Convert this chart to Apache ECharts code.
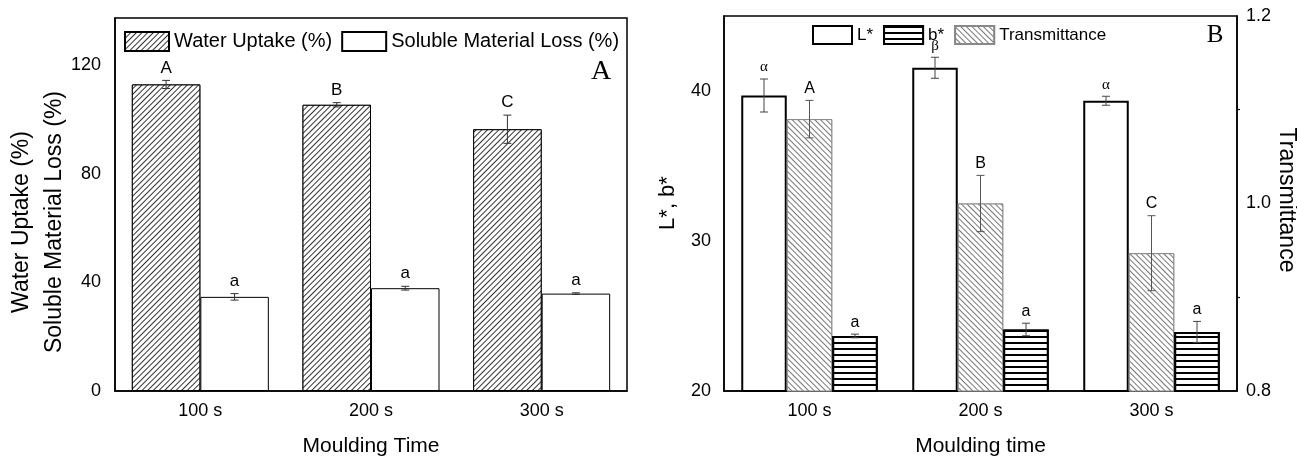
<!DOCTYPE html>
<html>
<head>
<meta charset="utf-8">
<script src="https://cdn.jsdelivr.net/npm/echarts@6/dist/echarts.min.js"></script>
<style>
  html, body { margin: 0; padding: 0; background: #fff; }
  #main { width: 1297px; height: 462px; }
</style>
</head>
<body>
<div id="main"></div>
<script>
// categories
var categories = ['100 s', '200 s', '300 s'];

// panel A
var waterUptake = [113.0, 105.5, 96.5];
var waterUptakeErr = [1.5, 0.8, 5.2];
var waterLetters = ['A', 'B', 'C'];
var solubleLoss = [34.7, 37.9, 35.9];
var solubleLossErr = [1.2, 0.7, 0.3];
var solubleLetters = ['a', 'a', 'a'];

// panel B
var lStar = [39.7, 41.55, 39.35];
var lStarErr = [1.1, 0.7, 0.3];
var lStarLetters = ['α', 'β', 'α'];
var transmittance = [1.09, 1.0, 0.947];
var transmittanceErr = [0.02, 0.03, 0.04];
var transLetters = ['A', 'B', 'C'];
var bStar = [23.67, 24.1, 23.94];
var bStarErr = [0.12, 0.42, 0.7];
var bStarLetters = ['a', 'a', 'a'];

var FONT = 'Liberation Sans, Arial, sans-serif';
var SERIF = 'Liberation Serif, Times New Roman, serif';
var BAR_A = 68.5;
var BAR_B = 45.5;

var chart = echarts.init(document.getElementById('main'));

var axisLine = { show: true, lineStyle: { color: '#000', width: 1.5 } };

// error bar + significance letter drawn through the axis scales
function errSeries(name, xi, yi, vals, errs, letters, offset, font, color) {
    return {
        type: 'custom',
        name: name,
        xAxisIndex: xi,
        yAxisIndex: yi,
        z: 10,
        silent: true,
        encode: { x: 0, y: 1 },
        data: vals.map(function (v, i) { return [i, v, errs[i]]; }),
        renderItem: function (params, api) {
            var i = api.value(0), v = api.value(1), e = api.value(2);
            var hi = api.coord([i, v + e]);
            var lo = api.coord([i, v - e]);
            var x = hi[0] + offset;
            var cap = 4;
            var st = { stroke: color, lineWidth: 1 };
            return {
                type: 'group',
                children: [
                    { type: 'line', shape: { x1: x, y1: hi[1], x2: x, y2: lo[1] }, style: st },
                    { type: 'line', shape: { x1: x - cap, y1: hi[1], x2: x + cap, y2: hi[1] }, style: st },
                    { type: 'line', shape: { x1: x - cap, y1: lo[1], x2: x + cap, y2: lo[1] }, style: st },
                    {
                        type: 'text',
                        style: {
                            text: letters[params.dataIndex], x: x, y: hi[1] - 4,
                            textAlign: 'center', textVerticalAlign: 'bottom',
                            font: font, fill: '#000'
                        }
                    }
                ]
            };
        }
    };
}

var option = {
    animation: false,
    backgroundColor: '#fff',
    grid: [
        { left: 115, top: 18, width: 512, height: 376, show: true, borderColor: '#000', borderWidth: 1.5 },
        { left: 724, top: 16, width: 513, height: 379, show: true, borderColor: '#000', borderWidth: 1.5 }
    ],
    legend: [
        {
            left: 119, top: 26, itemWidth: 44, itemHeight: 19, itemGap: 9, icon: 'rect',
            data: ['Water Uptake (%)', 'Soluble Material Loss (%)'],
            textStyle: { fontFamily: FONT, fontSize: 20, color: '#000' }
        },
        {
            left: 807, top: 20, itemWidth: 39, itemHeight: 18, itemGap: 10, icon: 'rect',
            data: ['L*', 'b*', 'Transmittance'],
            textStyle: { fontFamily: FONT, fontSize: 17, color: '#000' }
        }
    ],
    xAxis: [
        {
            gridIndex: 0, type: 'category', data: categories,
            axisLine: axisLine,
            axisTick: { alignWithLabel: true, length: 7, lineStyle: { color: '#000', width: 1.5 } },
            axisLabel: { fontFamily: FONT, fontSize: 18, color: '#000', margin: 11 },
            name: 'Moulding Time', nameLocation: 'middle', nameGap: 45,
            nameTextStyle: { fontFamily: FONT, fontSize: 21, color: '#000' }
        },
        {
            gridIndex: 0, type: 'category', data: categories, position: 'bottom',
            axisLine: { show: false }, axisLabel: { show: false },
            axisTick: { length: 4, lineStyle: { color: '#000', width: 1.2 } }
        },
        {
            gridIndex: 1, type: 'category', data: categories,
            axisLine: axisLine,
            axisTick: { alignWithLabel: true, length: 7, lineStyle: { color: '#000', width: 1.5 } },
            axisLabel: { fontFamily: FONT, fontSize: 18, color: '#000', margin: 11 },
            name: 'Moulding time', nameLocation: 'middle', nameGap: 45,
            nameTextStyle: { fontFamily: FONT, fontSize: 21, color: '#000' }
        }
    ],
    yAxis: [
        {
            gridIndex: 0, type: 'value', position: 'left', min: 0, max: 137.5, interval: 40,
            axisLine: axisLine, splitLine: { show: false },
            axisTick: { length: 6, lineStyle: { color: '#000', width: 1.5 } },
            axisLabel: { fontFamily: FONT, fontSize: 18, color: '#000', margin: 14, showMaxLabel: false }
        },
        {
            gridIndex: 0, type: 'value', position: 'left', min: 0, max: 137.5, interval: 20,
            axisLine: { show: false }, splitLine: { show: false }, axisLabel: { show: false },
            axisTick: { length: 3, lineStyle: { color: '#000', width: 1.2 } }
        },
        {
            gridIndex: 1, type: 'value', position: 'left', min: 20, max: 45, interval: 10,
            axisLine: axisLine, splitLine: { show: false },
            axisTick: { length: 6, lineStyle: { color: '#000', width: 1.5 } },
            axisLabel: { fontFamily: FONT, fontSize: 18, color: '#000', margin: 13, showMaxLabel: false }
        },
        {
            gridIndex: 1, type: 'value', position: 'right', min: 0.8, max: 1.2, interval: 0.2,
            axisLine: axisLine, splitLine: { show: false },
            axisTick: { length: 6, lineStyle: { color: '#000', width: 1.5 } },
            minorTick: { show: true, splitNumber: 2, length: 3, lineStyle: { color: '#000', width: 1.2 } },
            axisLabel: {
                fontFamily: FONT, fontSize: 18, color: '#000', margin: 9,
                formatter: function (v) { return v.toFixed(1); }
            }
        },
        {
            gridIndex: 1, type: 'value', position: 'left', min: 20, max: 45, interval: 5,
            axisLine: { show: false }, splitLine: { show: false }, axisLabel: { show: false },
            axisTick: { length: 3, lineStyle: { color: '#000', width: 1.2 } }
        }
    ],
    series: [
        {
            type: 'bar', name: 'Water Uptake (%)', xAxisIndex: 0, yAxisIndex: 0,
            data: waterUptake, barWidth: BAR_A, barGap: '0%',
            itemStyle: {
                color: '#fff', borderColor: '#000', borderWidth: 1,
                decal: { symbol: 'rect', symbolSize: 1, dashArrayX: [1, 0], dashArrayY: [1, 3], rotation: -Math.PI / 4, color: '#333', backgroundColor: '#fff' }
            }
        },
        {
            type: 'bar', name: 'Soluble Material Loss (%)', xAxisIndex: 0, yAxisIndex: 0,
            data: solubleLoss, barWidth: BAR_A, barGap: '0%',
            itemStyle: { color: '#fff', borderColor: '#000', borderWidth: 1 }
        },
        errSeries('errWater', 0, 0, waterUptake, waterUptakeErr, waterLetters, -BAR_A / 2, '17px ' + FONT, '#333'),
        errSeries('errSoluble', 0, 0, solubleLoss, solubleLossErr, solubleLetters, BAR_A / 2, '17px ' + FONT, '#333'),

        {
            type: 'bar', name: 'L*', xAxisIndex: 2, yAxisIndex: 2,
            data: lStar, barWidth: BAR_B, barGap: '0%',
            itemStyle: { color: '#fff', borderColor: '#000', borderWidth: 2 }
        },
        {
            type: 'bar', name: 'Transmittance', xAxisIndex: 2, yAxisIndex: 3,
            data: transmittance, barWidth: BAR_B, barGap: '0%',
            itemStyle: {
                color: '#fff', borderColor: '#888', borderWidth: 1,
                decal: { symbol: 'rect', symbolSize: 1, dashArrayX: [1, 0], dashArrayY: [1, 3], rotation: Math.PI / 4, color: '#777', backgroundColor: '#fff' }
            }
        },
        {
            type: 'bar', name: 'b*', xAxisIndex: 2, yAxisIndex: 2,
            data: bStar, barWidth: BAR_B, barGap: '0%',
            itemStyle: {
                color: '#fff', borderColor: '#000', borderWidth: 2,
                decal: { symbol: 'rect', symbolSize: 1, dashArrayX: [1, 0], dashArrayY: [1.5, 4], rotation: 0, color: '#000', backgroundColor: '#fff' }
            }
        },
        errSeries('errL', 2, 2, lStar, lStarErr, lStarLetters, -BAR_B, '15px ' + SERIF, '#444'),
        errSeries('errT', 2, 3, transmittance, transmittanceErr, transLetters, 0, '16px ' + FONT, '#555'),
        errSeries('errB', 2, 2, bStar, bStarErr, bStarLetters, BAR_B, '16px ' + FONT, '#444')
    ],
    graphic: [
        { type: 'text', x: 22, y: 222, rotation: Math.PI / 2, style: { text: 'Water Uptake (%)', font: '23px ' + FONT, fill: '#000', textAlign: 'center', textVerticalAlign: 'middle' } },
        { type: 'text', x: 55, y: 222, rotation: Math.PI / 2, style: { text: 'Soluble Material Loss (%)', font: '23px ' + FONT, fill: '#000', textAlign: 'center', textVerticalAlign: 'middle' } },
        { type: 'text', x: 668, y: 203, rotation: Math.PI / 2, style: { text: 'L*, b*', font: '22px ' + FONT, fill: '#000', textAlign: 'center', textVerticalAlign: 'middle' } },
        { type: 'text', x: 1286, y: 200, rotation: -Math.PI / 2, style: { text: 'Transmittance', font: '23px ' + FONT, fill: '#000', textAlign: 'center', textVerticalAlign: 'middle' } },
        { type: 'text', x: 601, y: 72, style: { text: 'A', font: '28px ' + SERIF, fill: '#000', textAlign: 'center', textVerticalAlign: 'middle' } },
        { type: 'text', x: 1215, y: 35, style: { text: 'B', font: '25px ' + SERIF, fill: '#000', textAlign: 'center', textVerticalAlign: 'middle' } }
    ]
};

chart.setOption(option);
</script>
</body>
</html>
